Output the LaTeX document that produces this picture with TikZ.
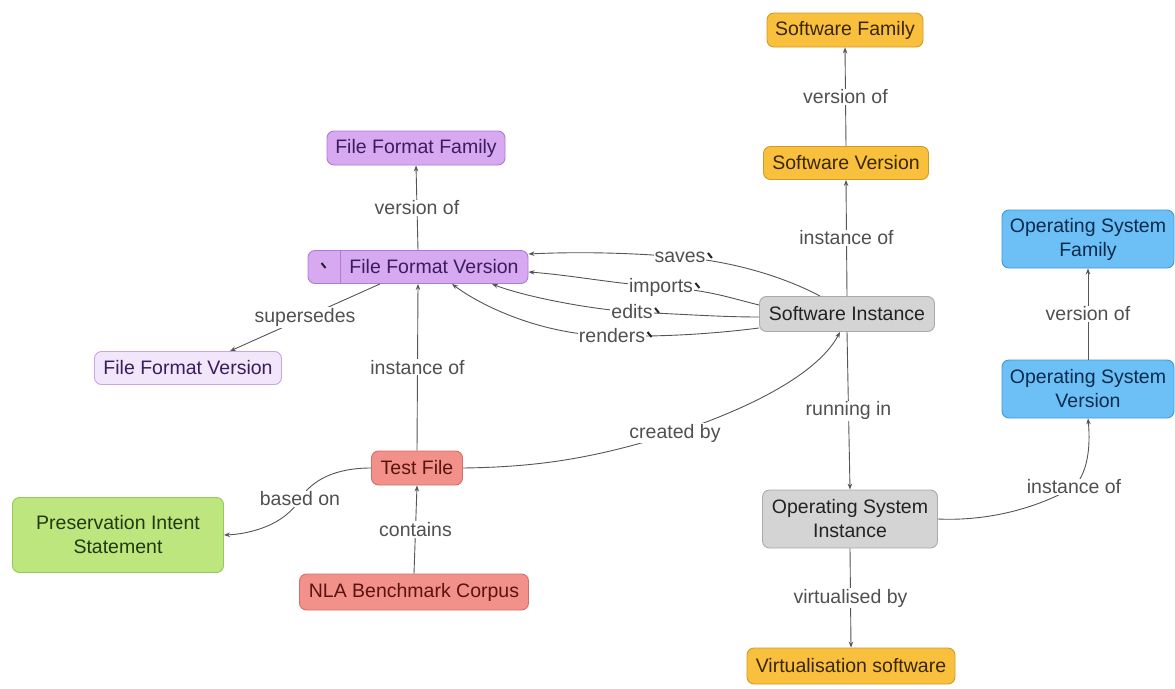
\documentclass[tikz,border=0pt]{standalone}
\usepackage{fontspec}
\setmainfont{Liberation Sans}
\usetikzlibrary{arrows.meta}
\newcommand\myfs{\fontsize{19.5}{24}\selectfont}
\definecolor{orF}{HTML}{F9C03E}\definecolor{orD}{HTML}{D39A22}\definecolor{orT}{HTML}{3A2700}
\definecolor{puF}{HTML}{D7A9F0}\definecolor{puD}{HTML}{B07AD4}\definecolor{puT}{HTML}{3B1C5C}
\definecolor{lpF}{HTML}{F2E6FA}\definecolor{lpD}{HTML}{C9A5E2}
\definecolor{grF}{HTML}{D4D4D4}\definecolor{grD}{HTML}{A9A9A9}\definecolor{grT}{HTML}{222222}
\definecolor{blF}{HTML}{6CC0F6}\definecolor{blD}{HTML}{3D97DA}\definecolor{blT}{HTML}{0C2A4C}
\definecolor{rdF}{HTML}{F2908A}\definecolor{rdD}{HTML}{D66D66}\definecolor{rdT}{HTML}{5A1410}
\definecolor{gnF}{HTML}{BDE67F}\definecolor{gnD}{HTML}{94C95B}\definecolor{gnT}{HTML}{203A10}
\definecolor{edgeC}{HTML}{555555}\definecolor{lblC}{HTML}{505050}
\tikzset{
  box/.style={draw, rounded corners=7pt, line width=0.9pt, align=center, font=\myfs, inner sep=2pt},
  orange/.style={box, fill=orF, draw=orD, text=orT},
  purple/.style={box, fill=puF, draw=puD, text=puT},
  lpurple/.style={box, fill=lpF, draw=lpD, text=puT},
  grey/.style={box, fill=grF, draw=grD, text=grT},
  blue/.style={box, fill=blF, draw=blD, text=blT},
  red/.style={box, fill=rdF, draw=rdD, text=rdT},
  green/.style={box, fill=gnF, draw=gnD, text=gnT},
  edge/.style={draw=edgeC, line width=0.9pt, -{Stealth[length=6pt,width=4.5pt]}},
  lbl/.style={fill=white, text=lblC, font=\myfs, inner sep=1pt},
  tick/.style={draw=black!85, line width=2pt}
}
\begin{document}
\begin{tikzpicture}[x=1pt,y=-1pt]
\useasboundingbox (0,0) rectangle (1175,688);
% nodes
\node[orange, minimum width=156pt, minimum height=34pt] (SF) at (845,30) {Software Family};
\node[orange, minimum width=165pt, minimum height=33pt] (SV) at (846,163) {Software Version};
\node[purple, minimum width=178pt, minimum height=34pt] (FFF) at (416,148) {File Format Family};
\node[purple, minimum width=220pt, minimum height=33pt] (FFV) at (418,267) {\hspace*{32pt}File Format Version};
\node[lpurple, minimum width=187pt, minimum height=33pt] (FFVo) at (188,368) {File Format Version};
\node[grey, minimum width=175pt, minimum height=35pt] (SI) at (847,314) {Software Instance};
\node[blue, minimum width=172pt, minimum height=58pt] (OSF) at (1088,239) {Operating System\\Family};
\node[blue, minimum width=172pt, minimum height=58pt] (OSV) at (1088,389) {Operating System\\Version};
\node[grey, minimum width=175pt, minimum height=58pt] (OSI) at (850,519) {Operating System\\Instance};
\node[red, minimum width=91pt, minimum height=34pt] (TF) at (417,468) {Test File};
\node[green, minimum width=211pt, minimum height=75pt] (PIS) at (118,535) {Preservation Intent\\Statement};
\node[red, minimum width=229pt, minimum height=36pt] (NLA) at (414,592) {NLA Benchmark Corpus};
\node[orange, minimum width=208pt, minimum height=36pt] (VS) at (851,666) {Virtualisation software};
% separator and glyph inside File Format Version
\draw[puD, line width=0.8pt] ([xshift=33pt]FFV.north west) -- ([xshift=33pt]FFV.south west);
\draw[tick] ([xshift=14pt,yshift=4pt]FFV.west) -- ++(4,5);
% straight edges
\draw[edge] (SV.north) -- node[lbl]{version of} (SF.south);
\draw[edge] (SI.north) -- node[lbl]{instance of} (SV.south);
\draw[edge] (SI.south) -- node[lbl]{running in} (OSI.north);
\draw[edge] (OSI.south) -- node[lbl]{virtualised by} (VS.north);
\draw[edge] (OSV.north) -- node[lbl]{version of} (OSF.south);
\draw[edge] (FFV.north) -- node[lbl]{version of} (FFF.south);
\draw[edge] (TF.north) -- node[lbl]{instance of} (FFV.south);
\draw[edge] (NLA.north) -- node[lbl]{contains} (TF.south);
\draw[edge] ([xshift=-38pt]FFV.south) -- node[lbl]{supersedes} ([xshift=42pt]FFVo.north);
% curved edges
\draw[edge] ([xshift=-27pt]SI.north) .. controls (790,280) and (740,262) .. (680,257) node[lbl] (ls) {saves}
  .. controls (620,252) and (570,252) .. ([yshift=13pt]FFV.east);
\draw[edge] ([yshift=9pt]SI.west) .. controls (730,298) and (710,290) .. (661,287) node[lbl] (li) {imports}
  .. controls (610,283) and (570,275) .. ([yshift=-5pt]FFV.east);
\draw[edge] ([yshift=-3pt]SI.west) .. controls (720,317) and (680,314) .. (632,312) node[lbl] (le) {edits}
  .. controls (580,308) and (520,295) .. ([xshift=74pt]FFV.south);
\draw[edge] ([yshift=-14pt]SI.west) .. controls (720,333) and (670,337) .. (612,336) node[lbl] (lr) {renders}
  .. controls (540,335) and (480,305) .. ([xshift=34pt]FFV.south);
\draw[tick] ([xshift=1pt,yshift=4pt]ls.east) -- ++(4,5);
\draw[tick] ([xshift=1pt,yshift=4pt]li.east) -- ++(4,5);
\draw[tick] ([xshift=1pt,yshift=4pt]le.east) -- ++(4,5);
\draw[tick] ([xshift=1pt,yshift=4pt]lr.east) -- ++(4,5);
\draw[edge] (TF.east) .. controls (540,467) and (595,458) .. (675,433) node[lbl]{created by}
  .. controls (760,405) and (820,370) .. ([xshift=-7pt]SI.south);
\draw[edge] (TF.west) .. controls (335,468) and (312,480) .. (300,499) node[lbl]{based on}
  .. controls (285,525) and (250,534) .. (PIS.east);
\draw[edge] (OSI.east) .. controls (980,521) and (1030,512) .. (1074,487) node[lbl]{instance of}
  .. controls (1090,470) and (1090,440) .. (OSV.south);
\end{tikzpicture}
\end{document}
